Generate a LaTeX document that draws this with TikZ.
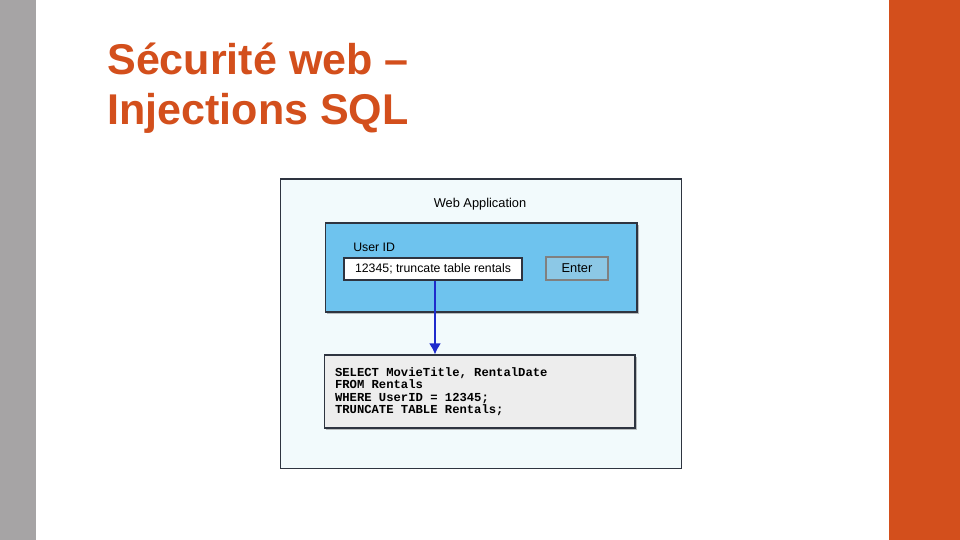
\documentclass[tikz,border=0pt]{standalone}
\usepackage{fontspec}
\setmainfont{Liberation Sans}
\setmonofont{Liberation Mono}
\usetikzlibrary{arrows.meta,positioning,shadows}
\definecolor{slidegray}{HTML}{A6A4A5}
\definecolor{slideorange}{HTML}{D34F1C}
\definecolor{appbg}{HTML}{F2FAFC}
\definecolor{panelblue}{HTML}{6EC3EE}
\definecolor{btnblue}{HTML}{8CC8E6}
\definecolor{sqlgray}{HTML}{EDEDED}
\definecolor{arrowblue}{HTML}{1F2BCC}
\definecolor{edge}{HTML}{2E3440}
\newcommand\sqlcode{\ttfamily\bfseries\fontsize{6.95}{7.1}\selectfont\spaceskip=0.6em\relax}

\begin{document}
\begin{tikzpicture}[x=0.02cm, y=-0.02cm,
          box/.style={draw=edge, line width=0.6pt, inner sep=0pt},
          shad/.style={drop shadow={shadow xshift=0.9pt, shadow yshift=-0.9pt, opacity=0.5}},
          lbl/.style={font=\fontsize{7}{8}\selectfont, inner sep=0pt},
          arr/.style={-{Latex[length=2.2mm, width=2.4mm]}, arrowblue, line width=1.2pt}]
        % slide frame
        \fill[white] (0,0) rectangle (960,540);
        \useasboundingbox (0,0) rectangle (960,540);
        \fill[slidegray] (0,0) rectangle (36,540);
        \fill[slideorange] (889,0) rectangle (960,540);
        \node[anchor=north west, align=left, inner sep=0pt, text=slideorange,
              font=\fontsize{24.5}{28.5}\selectfont\bfseries] (title) at (107,43)
              {Sécurité web –\\Injections SQL};
        % diagram
        \node[box, fill=appbg, minimum width=8.04cm, minimum height=5.8cm] (app) at (481,324) {};
        \node[lbl, font=\fontsize{7.3}{8}\selectfont] (apptitle) at (480,204) {Web Application};
        \node[box, shad, fill=panelblue, minimum width=6.24cm, minimum height=1.78cm] (panel) at (481,267.5) {};
        \node[lbl, anchor=west] (userid) at (353,247) {User ID};
        \node[box, fill=white, minimum width=3.56cm, minimum height=0.44cm] (field) at (433,269)
             {\fontsize{7}{8}\selectfont 12345; truncate table rentals};
        \node[box, draw=gray, fill=btnblue, minimum width=1.24cm, minimum height=0.46cm] (enter) at (577,268.5)
             {\fontsize{7.3}{8}\selectfont Enter};
        \node[box, shad, fill=sqlgray, minimum width=6.22cm, minimum height=1.46cm,
              text width=5.78cm, inner xsep=0.22cm, align=left] (sql) at (479.5,391.5)
             {\sqlcode SELECT MovieTitle, RentalDate\\FROM Rentals\\WHERE UserID = 12345;\\TRUNCATE TABLE Rentals;\par};
        \draw[arr] ([xshift=0.04cm]field.south) -- ([xshift=0.04cm]field.south |- sql.north);
      \end{tikzpicture}
\end{document}
